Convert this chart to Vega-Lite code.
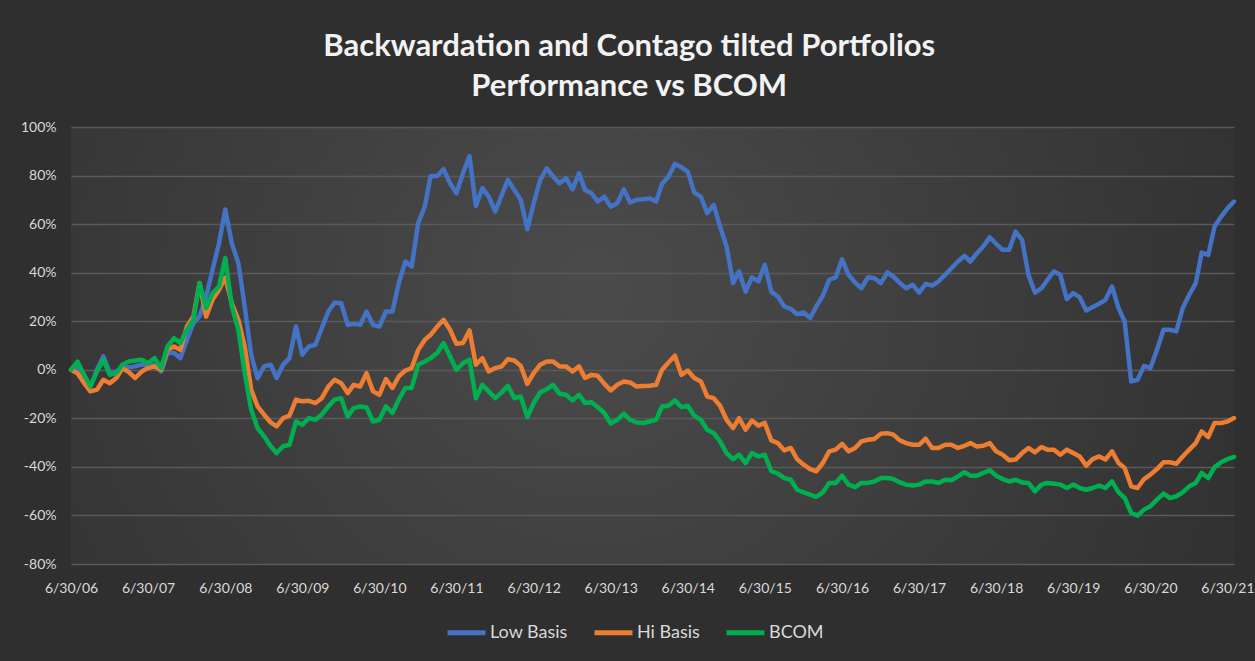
{
  "$schema": "https://vega.github.io/schema/vega-lite/v6.json",
  "width": 1163,
  "height": 437,
  "autosize": {"type": "none"},
  "padding": {"left": 71, "top": 127, "right": 21, "bottom": 97},
  "background": "#2f2f2f",
  "title": {
    "text": ["Backwardation and Contago tilted Portfolios", "Performance vs BCOM"],
    "fontSize": 31,
    "fontWeight": "bold",
    "color": "#f2f2f2",
    "font": "Lato",
    "lineHeight": 40,
    "anchor": "middle",
    "frame": "bounds",
    "offset": 17,
    "dx": -8
  },
  "data": {
    "values": [
      {"date": "2006-06-30", "Low Basis": 0, "Hi Basis": 0, "BCOM": 0},
      {"date": "2006-07-31", "Low Basis": 1, "Hi Basis": -1.4, "BCOM": 3.4},
      {"date": "2006-08-31", "Low Basis": -3, "Hi Basis": -5.5, "BCOM": -2},
      {"date": "2006-09-30", "Low Basis": -6.9, "Hi Basis": -8.9, "BCOM": -6.9},
      {"date": "2006-10-31", "Low Basis": 0, "Hi Basis": -8.2, "BCOM": -0.7},
      {"date": "2006-11-30", "Low Basis": 5.5, "Hi Basis": -4.1, "BCOM": 4.1},
      {"date": "2006-12-31", "Low Basis": -1.4, "Hi Basis": -5.5, "BCOM": -2.1},
      {"date": "2007-01-31", "Low Basis": -0.7, "Hi Basis": -3.4, "BCOM": -1.4},
      {"date": "2007-02-28", "Low Basis": 0.7, "Hi Basis": 0.7, "BCOM": 2.1},
      {"date": "2007-03-31", "Low Basis": 1, "Hi Basis": -1, "BCOM": 3.4},
      {"date": "2007-04-30", "Low Basis": 1.4, "Hi Basis": -3.4, "BCOM": 3.8},
      {"date": "2007-05-31", "Low Basis": 2.1, "Hi Basis": -0.7, "BCOM": 4.1},
      {"date": "2007-06-30", "Low Basis": 2.1, "Hi Basis": 0.7, "BCOM": 2.7},
      {"date": "2007-07-31", "Low Basis": 2, "Hi Basis": 1.4, "BCOM": 4.8},
      {"date": "2007-08-31", "Low Basis": -0.7, "Hi Basis": 0, "BCOM": 0.7},
      {"date": "2007-09-30", "Low Basis": 6.9, "Hi Basis": 8.2, "BCOM": 9.6},
      {"date": "2007-10-31", "Low Basis": 6.9, "Hi Basis": 9.6, "BCOM": 13},
      {"date": "2007-11-30", "Low Basis": 4.8, "Hi Basis": 8.2, "BCOM": 11},
      {"date": "2007-12-31", "Low Basis": 12.3, "Hi Basis": 17.8, "BCOM": 16.5},
      {"date": "2008-01-31", "Low Basis": 19.2, "Hi Basis": 21.9, "BCOM": 20.6},
      {"date": "2008-02-29", "Low Basis": 22, "Hi Basis": 35.7, "BCOM": 35.7},
      {"date": "2008-03-31", "Low Basis": 30, "Hi Basis": 21.9, "BCOM": 25.4},
      {"date": "2008-04-30", "Low Basis": 41, "Hi Basis": 28.8, "BCOM": 31.5},
      {"date": "2008-05-31", "Low Basis": 52, "Hi Basis": 32.9, "BCOM": 34.3},
      {"date": "2008-06-30", "Low Basis": 66, "Hi Basis": 38, "BCOM": 46},
      {"date": "2008-07-31", "Low Basis": 52, "Hi Basis": 27.4, "BCOM": 26.1},
      {"date": "2008-08-31", "Low Basis": 43.9, "Hi Basis": 20.6, "BCOM": 16.5},
      {"date": "2008-09-30", "Low Basis": 26, "Hi Basis": 9.6, "BCOM": -1.4},
      {"date": "2008-10-31", "Low Basis": 6, "Hi Basis": -8.2, "BCOM": -16.5},
      {"date": "2008-11-30", "Low Basis": -3.5, "Hi Basis": -15.1, "BCOM": -24},
      {"date": "2008-12-31", "Low Basis": 1.4, "Hi Basis": -18.5, "BCOM": -27.4},
      {"date": "2009-01-31", "Low Basis": 2.1, "Hi Basis": -21.7, "BCOM": -31.5},
      {"date": "2009-02-28", "Low Basis": -3.4, "Hi Basis": -23.3, "BCOM": -34.3},
      {"date": "2009-03-31", "Low Basis": 2.1, "Hi Basis": -19.9, "BCOM": -31.5},
      {"date": "2009-04-30", "Low Basis": 4.8, "Hi Basis": -18.9, "BCOM": -30.9},
      {"date": "2009-05-31", "Low Basis": 17.8, "Hi Basis": -12.3, "BCOM": -21.3},
      {"date": "2009-06-30", "Low Basis": 6.2, "Hi Basis": -13, "BCOM": -22.6},
      {"date": "2009-07-31", "Low Basis": 9.6, "Hi Basis": -12.8, "BCOM": -19.9},
      {"date": "2009-08-31", "Low Basis": 10.3, "Hi Basis": -13.7, "BCOM": -20.6},
      {"date": "2009-09-30", "Low Basis": 17.1, "Hi Basis": -11.7, "BCOM": -18.5},
      {"date": "2009-10-31", "Low Basis": 24, "Hi Basis": -6.9, "BCOM": -15.1},
      {"date": "2009-11-30", "Low Basis": 27.7, "Hi Basis": -4.1, "BCOM": -12.3},
      {"date": "2009-12-31", "Low Basis": 27.4, "Hi Basis": -5.5, "BCOM": -11.7},
      {"date": "2010-01-31", "Low Basis": 18.5, "Hi Basis": -9.6, "BCOM": -19.2},
      {"date": "2010-02-28", "Low Basis": 18.9, "Hi Basis": -6.2, "BCOM": -15.8},
      {"date": "2010-03-31", "Low Basis": 18.5, "Hi Basis": -6.9, "BCOM": -15.1},
      {"date": "2010-04-30", "Low Basis": 24, "Hi Basis": -1.4, "BCOM": -15.5},
      {"date": "2010-05-31", "Low Basis": 18.5, "Hi Basis": -8.9, "BCOM": -21.3},
      {"date": "2010-06-30", "Low Basis": 17.8, "Hi Basis": -10.3, "BCOM": -20.6},
      {"date": "2010-07-31", "Low Basis": 24, "Hi Basis": -3.8, "BCOM": -15.1},
      {"date": "2010-08-31", "Low Basis": 24, "Hi Basis": -7.5, "BCOM": -17.8},
      {"date": "2010-09-30", "Low Basis": 35.7, "Hi Basis": -2.7, "BCOM": -12.3},
      {"date": "2010-10-31", "Low Basis": 44.6, "Hi Basis": -0.3, "BCOM": -7.5},
      {"date": "2010-11-30", "Low Basis": 42.5, "Hi Basis": 0.7, "BCOM": -7.5},
      {"date": "2010-12-31", "Low Basis": 60.4, "Hi Basis": 8.2, "BCOM": 2.1},
      {"date": "2011-01-31", "Low Basis": 67.2, "Hi Basis": 12.3, "BCOM": 3.4},
      {"date": "2011-02-28", "Low Basis": 79.8, "Hi Basis": 14.4, "BCOM": 4.8},
      {"date": "2011-03-31", "Low Basis": 79.8, "Hi Basis": 17.8, "BCOM": 6.9},
      {"date": "2011-04-30", "Low Basis": 82.6, "Hi Basis": 20.6, "BCOM": 11},
      {"date": "2011-05-31", "Low Basis": 76.8, "Hi Basis": 16.5, "BCOM": 5.5},
      {"date": "2011-06-30", "Low Basis": 72.7, "Hi Basis": 10.7, "BCOM": 0},
      {"date": "2011-07-31", "Low Basis": 80.9, "Hi Basis": 11, "BCOM": 2.7},
      {"date": "2011-08-31", "Low Basis": 88, "Hi Basis": 16.2, "BCOM": 4.1},
      {"date": "2011-09-30", "Low Basis": 67.5, "Hi Basis": 2.1, "BCOM": -11.7},
      {"date": "2011-10-31", "Low Basis": 74.8, "Hi Basis": 4.8, "BCOM": -6.2},
      {"date": "2011-11-30", "Low Basis": 71.3, "Hi Basis": -0.7, "BCOM": -8.9},
      {"date": "2011-12-31", "Low Basis": 65.2, "Hi Basis": 0.7, "BCOM": -11.7},
      {"date": "2012-01-31", "Low Basis": 72, "Hi Basis": 1.4, "BCOM": -9.3},
      {"date": "2012-02-29", "Low Basis": 78.2, "Hi Basis": 4.4, "BCOM": -6.6},
      {"date": "2012-03-31", "Low Basis": 74, "Hi Basis": 3.8, "BCOM": -11.7},
      {"date": "2012-04-30", "Low Basis": 70, "Hi Basis": 1.6, "BCOM": -11},
      {"date": "2012-05-31", "Low Basis": 57.9, "Hi Basis": -5.8, "BCOM": -19.5},
      {"date": "2012-06-30", "Low Basis": 68.6, "Hi Basis": -1.4, "BCOM": -13.7},
      {"date": "2012-07-31", "Low Basis": 78.2, "Hi Basis": 2.1, "BCOM": -9.3},
      {"date": "2012-08-31", "Low Basis": 83, "Hi Basis": 3.4, "BCOM": -8},
      {"date": "2012-09-30", "Low Basis": 79.6, "Hi Basis": 3.4, "BCOM": -6.2},
      {"date": "2012-10-31", "Low Basis": 76.8, "Hi Basis": 1.4, "BCOM": -9.9},
      {"date": "2012-11-30", "Low Basis": 78.9, "Hi Basis": 1.4, "BCOM": -10.3},
      {"date": "2012-12-31", "Low Basis": 74.3, "Hi Basis": -0.7, "BCOM": -12.6},
      {"date": "2013-01-31", "Low Basis": 80.9, "Hi Basis": 1.4, "BCOM": -10.3},
      {"date": "2013-02-28", "Low Basis": 74.1, "Hi Basis": -3.4, "BCOM": -13.7},
      {"date": "2013-03-31", "Low Basis": 72.7, "Hi Basis": -2.1, "BCOM": -13.4},
      {"date": "2013-04-30", "Low Basis": 69.3, "Hi Basis": -2.5, "BCOM": -15.4},
      {"date": "2013-05-31", "Low Basis": 71.3, "Hi Basis": -5.8, "BCOM": -17.8},
      {"date": "2013-06-30", "Low Basis": 67.2, "Hi Basis": -8.5, "BCOM": -22.2},
      {"date": "2013-07-31", "Low Basis": 68.6, "Hi Basis": -6.2, "BCOM": -20.6},
      {"date": "2013-08-31", "Low Basis": 74.3, "Hi Basis": -4.8, "BCOM": -18.1},
      {"date": "2013-09-30", "Low Basis": 68.9, "Hi Basis": -5.2, "BCOM": -20.6},
      {"date": "2013-10-31", "Low Basis": 70, "Hi Basis": -6.9, "BCOM": -21.7},
      {"date": "2013-11-30", "Low Basis": 70.2, "Hi Basis": -6.7, "BCOM": -21.9},
      {"date": "2013-12-31", "Low Basis": 70.6, "Hi Basis": -6.6, "BCOM": -21.3},
      {"date": "2014-01-31", "Low Basis": 69.3, "Hi Basis": -6.2, "BCOM": -20.6},
      {"date": "2014-02-28", "Low Basis": 76.5, "Hi Basis": 0, "BCOM": -15.1},
      {"date": "2014-03-31", "Low Basis": 79.6, "Hi Basis": 3, "BCOM": -14.8},
      {"date": "2014-04-30", "Low Basis": 84.8, "Hi Basis": 5.8, "BCOM": -12.6},
      {"date": "2014-05-31", "Low Basis": 83.4, "Hi Basis": -2.1, "BCOM": -15.4},
      {"date": "2014-06-30", "Low Basis": 81.6, "Hi Basis": -0.3, "BCOM": -14.8},
      {"date": "2014-07-31", "Low Basis": 73, "Hi Basis": -3.4, "BCOM": -18.9},
      {"date": "2014-08-31", "Low Basis": 71.3, "Hi Basis": -4.8, "BCOM": -20.6},
      {"date": "2014-09-30", "Low Basis": 64.5, "Hi Basis": -11, "BCOM": -24.7},
      {"date": "2014-10-31", "Low Basis": 67.9, "Hi Basis": -11.7, "BCOM": -26.1},
      {"date": "2014-11-30", "Low Basis": 59, "Hi Basis": -14.8, "BCOM": -29.5},
      {"date": "2014-12-31", "Low Basis": 50.8, "Hi Basis": -20.6, "BCOM": -34.3},
      {"date": "2015-01-31", "Low Basis": 35.7, "Hi Basis": -24, "BCOM": -36.8},
      {"date": "2015-02-28", "Low Basis": 40.5, "Hi Basis": -19.9, "BCOM": -35},
      {"date": "2015-03-31", "Low Basis": 32.2, "Hi Basis": -24.7, "BCOM": -38.4},
      {"date": "2015-04-30", "Low Basis": 38.1, "Hi Basis": -20.9, "BCOM": -34.3},
      {"date": "2015-05-31", "Low Basis": 36.4, "Hi Basis": -23, "BCOM": -35.7},
      {"date": "2015-06-30", "Low Basis": 43.2, "Hi Basis": -21.9, "BCOM": -35},
      {"date": "2015-07-31", "Low Basis": 32.2, "Hi Basis": -29.1, "BCOM": -41.8},
      {"date": "2015-08-31", "Low Basis": 30.2, "Hi Basis": -30.2, "BCOM": -42.8},
      {"date": "2015-09-30", "Low Basis": 26.1, "Hi Basis": -33.2, "BCOM": -44.6},
      {"date": "2015-10-31", "Low Basis": 25.1, "Hi Basis": -32.2, "BCOM": -45.3},
      {"date": "2015-11-30", "Low Basis": 22.9, "Hi Basis": -36.8, "BCOM": -49.4},
      {"date": "2015-12-31", "Low Basis": 23.6, "Hi Basis": -39.1, "BCOM": -50.5},
      {"date": "2016-01-31", "Low Basis": 21.3, "Hi Basis": -40.9, "BCOM": -51.4},
      {"date": "2016-02-29", "Low Basis": 26.1, "Hi Basis": -41.8, "BCOM": -52.4},
      {"date": "2016-03-31", "Low Basis": 30.5, "Hi Basis": -38.4, "BCOM": -50.5},
      {"date": "2016-04-30", "Low Basis": 37, "Hi Basis": -33.6, "BCOM": -46.6},
      {"date": "2016-05-31", "Low Basis": 38.1, "Hi Basis": -32.9, "BCOM": -46.6},
      {"date": "2016-06-30", "Low Basis": 45.5, "Hi Basis": -30.5, "BCOM": -43.6},
      {"date": "2016-07-31", "Low Basis": 39.1, "Hi Basis": -33.6, "BCOM": -47.3},
      {"date": "2016-08-31", "Low Basis": 35.9, "Hi Basis": -32.2, "BCOM": -48.3},
      {"date": "2016-09-30", "Low Basis": 33.6, "Hi Basis": -29.5, "BCOM": -46.6},
      {"date": "2016-10-31", "Low Basis": 38.1, "Hi Basis": -28.8, "BCOM": -46.6},
      {"date": "2016-11-30", "Low Basis": 37.7, "Hi Basis": -28.5, "BCOM": -46},
      {"date": "2016-12-31", "Low Basis": 35.7, "Hi Basis": -26.3, "BCOM": -44.6},
      {"date": "2017-01-31", "Low Basis": 40.1, "Hi Basis": -26.1, "BCOM": -44.6},
      {"date": "2017-02-28", "Low Basis": 38.4, "Hi Basis": -26.7, "BCOM": -45},
      {"date": "2017-03-31", "Low Basis": 35.7, "Hi Basis": -29.1, "BCOM": -46.4},
      {"date": "2017-04-30", "Low Basis": 33.6, "Hi Basis": -30.2, "BCOM": -47.3},
      {"date": "2017-05-31", "Low Basis": 35, "Hi Basis": -30.9, "BCOM": -47.7},
      {"date": "2017-06-30", "Low Basis": 31.8, "Hi Basis": -30.9, "BCOM": -47.3},
      {"date": "2017-07-31", "Low Basis": 35.4, "Hi Basis": -28.4, "BCOM": -46},
      {"date": "2017-08-31", "Low Basis": 34.7, "Hi Basis": -32.2, "BCOM": -46},
      {"date": "2017-09-30", "Low Basis": 36.4, "Hi Basis": -32.2, "BCOM": -46.6},
      {"date": "2017-10-31", "Low Basis": 39.1, "Hi Basis": -30.9, "BCOM": -45.3},
      {"date": "2017-11-30", "Low Basis": 41.8, "Hi Basis": -30.9, "BCOM": -45.5},
      {"date": "2017-12-31", "Low Basis": 44.6, "Hi Basis": -32.2, "BCOM": -43.9},
      {"date": "2018-01-31", "Low Basis": 46.9, "Hi Basis": -31.3, "BCOM": -42.2},
      {"date": "2018-02-28", "Low Basis": 44.6, "Hi Basis": -30.2, "BCOM": -43.6},
      {"date": "2018-03-31", "Low Basis": 48, "Hi Basis": -31.6, "BCOM": -43.6},
      {"date": "2018-04-30", "Low Basis": 50.8, "Hi Basis": -31.3, "BCOM": -42.5},
      {"date": "2018-05-31", "Low Basis": 54.6, "Hi Basis": -30.2, "BCOM": -41.4},
      {"date": "2018-06-30", "Low Basis": 51.9, "Hi Basis": -33.6, "BCOM": -43.6},
      {"date": "2018-07-31", "Low Basis": 49.4, "Hi Basis": -35, "BCOM": -45},
      {"date": "2018-08-31", "Low Basis": 49.4, "Hi Basis": -37.3, "BCOM": -46},
      {"date": "2018-09-30", "Low Basis": 56.9, "Hi Basis": -37, "BCOM": -45.3},
      {"date": "2018-10-31", "Low Basis": 53.5, "Hi Basis": -34.3, "BCOM": -46.4},
      {"date": "2018-11-30", "Low Basis": 39.1, "Hi Basis": -32.2, "BCOM": -46.6},
      {"date": "2018-12-31", "Low Basis": 31.8, "Hi Basis": -34, "BCOM": -50.1},
      {"date": "2019-01-31", "Low Basis": 33.6, "Hi Basis": -31.8, "BCOM": -47.3},
      {"date": "2019-02-28", "Low Basis": 37, "Hi Basis": -32.9, "BCOM": -46.6},
      {"date": "2019-03-31", "Low Basis": 40.5, "Hi Basis": -32.9, "BCOM": -46.9},
      {"date": "2019-04-30", "Low Basis": 39.1, "Hi Basis": -35, "BCOM": -47.3},
      {"date": "2019-05-31", "Low Basis": 29.1, "Hi Basis": -32.9, "BCOM": -48.7},
      {"date": "2019-06-30", "Low Basis": 31.6, "Hi Basis": -34.3, "BCOM": -47.3},
      {"date": "2019-07-31", "Low Basis": 29.9, "Hi Basis": -35.7, "BCOM": -48.7},
      {"date": "2019-08-31", "Low Basis": 24.4, "Hi Basis": -39.5, "BCOM": -49.4},
      {"date": "2019-09-30", "Low Basis": 25.8, "Hi Basis": -36.8, "BCOM": -48.7},
      {"date": "2019-10-31", "Low Basis": 27.2, "Hi Basis": -35.7, "BCOM": -47.7},
      {"date": "2019-11-30", "Low Basis": 28.8, "Hi Basis": -37, "BCOM": -48.7},
      {"date": "2019-12-31", "Low Basis": 34.3, "Hi Basis": -33.6, "BCOM": -46},
      {"date": "2020-01-31", "Low Basis": 25.4, "Hi Basis": -38.4, "BCOM": -50.5},
      {"date": "2020-02-29", "Low Basis": 19.9, "Hi Basis": -40.5, "BCOM": -52.8},
      {"date": "2020-03-31", "Low Basis": -4.8, "Hi Basis": -48, "BCOM": -59},
      {"date": "2020-04-30", "Low Basis": -4.1, "Hi Basis": -48.7, "BCOM": -60.1},
      {"date": "2020-05-31", "Low Basis": 1.6, "Hi Basis": -45, "BCOM": -57.6},
      {"date": "2020-06-30", "Low Basis": 0.7, "Hi Basis": -43.2, "BCOM": -56.2},
      {"date": "2020-07-31", "Low Basis": 8.2, "Hi Basis": -40.9, "BCOM": -53.5},
      {"date": "2020-08-31", "Low Basis": 16.5, "Hi Basis": -38.1, "BCOM": -51},
      {"date": "2020-09-30", "Low Basis": 16.5, "Hi Basis": -38.1, "BCOM": -52.8},
      {"date": "2020-10-31", "Low Basis": 15.8, "Hi Basis": -38.7, "BCOM": -52.1},
      {"date": "2020-11-30", "Low Basis": 25.4, "Hi Basis": -35.7, "BCOM": -50.5},
      {"date": "2020-12-31", "Low Basis": 30.9, "Hi Basis": -32.9, "BCOM": -48},
      {"date": "2021-01-31", "Low Basis": 35.7, "Hi Basis": -30.2, "BCOM": -46.6},
      {"date": "2021-02-28", "Low Basis": 48.3, "Hi Basis": -25.4, "BCOM": -42.5},
      {"date": "2021-03-31", "Low Basis": 47.3, "Hi Basis": -27.7, "BCOM": -44.6},
      {"date": "2021-04-30", "Low Basis": 59, "Hi Basis": -21.9, "BCOM": -40.1},
      {"date": "2021-05-31", "Low Basis": 63.1, "Hi Basis": -21.9, "BCOM": -38.1},
      {"date": "2021-06-30", "Low Basis": 66.5, "Hi Basis": -21.3, "BCOM": -36.8},
      {"date": "2021-07-31", "Low Basis": 69.3, "Hi Basis": -19.9, "BCOM": -35.9}
    ]
  },
  "transform": [{"fold": ["Low Basis", "Hi Basis", "BCOM"], "as": ["series", "value"]}],
  "mark": {"type": "line", "strokeWidth": 4.5, "strokeJoin": "round", "strokeCap": "round"},
  "encoding": {
    "x": {
      "field": "date",
      "type": "temporal",
      "scale": {"domain": [{"year": 2006, "month": 6, "date": 30}, {"year": 2021, "month": 7, "date": 31}]},
      "axis": {
        "values": [
          {"year": 2006, "month": 6, "date": 30}, {"year": 2007, "month": 6, "date": 30},
          {"year": 2008, "month": 6, "date": 30}, {"year": 2009, "month": 6, "date": 30},
          {"year": 2010, "month": 6, "date": 30}, {"year": 2011, "month": 6, "date": 30},
          {"year": 2012, "month": 6, "date": 30}, {"year": 2013, "month": 6, "date": 30},
          {"year": 2014, "month": 6, "date": 30}, {"year": 2015, "month": 6, "date": 30},
          {"year": 2016, "month": 6, "date": 30}, {"year": 2017, "month": 6, "date": 30},
          {"year": 2018, "month": 6, "date": 30}, {"year": 2019, "month": 6, "date": 30},
          {"year": 2020, "month": 6, "date": 30}, {"year": 2021, "month": 6, "date": 30}
        ],
        "format": "%-m/%d/%y",
        "labelColor": "#d9d9d9",
        "labelFontSize": 14,
        "labelFont": "Lato",
        "labelPadding": 17,
        "labelFlush": false,
        "labelOverlap": false,
        "ticks": false,
        "domain": false,
        "grid": false,
        "title": null
      }
    },
    "y": {
      "field": "value",
      "type": "quantitative",
      "scale": {"domain": [-80, 100], "nice": false},
      "axis": {
        "values": [-80, -60, -40, -20, 0, 20, 40, 60, 80, 100],
        "labelExpr": "datum.value + '%'",
        "labelColor": "#d9d9d9",
        "labelFontSize": 14,
        "labelFont": "Lato",
        "labelPadding": 15,
        "ticks": false,
        "domain": false,
        "gridColor": "#5a5a5a",
        "gridWidth": 1.5,
        "title": null
      }
    },
    "color": {
      "field": "series",
      "type": "nominal",
      "sort": ["Low Basis", "Hi Basis", "BCOM"],
      "scale": {"domain": ["Low Basis", "Hi Basis", "BCOM"], "range": ["#4472C4", "#ED7D31", "#00B050"]},
      "legend": {
        "orient": "none",
        "legendX": 374,
        "legendY": 484,
        "direction": "horizontal",
        "title": null,
        "symbolType": "stroke",
        "symbolStrokeWidth": 5,
        "symbolSize": 1444,
        "labelFontSize": 18,
        "labelFont": "Lato",
        "labelColor": "#d9d9d9",
        "columnPadding": 16,
        "labelOffset": 2
      }
    }
  },
  "config": {
    "view": {
      "stroke": null,
      "fill": {
        "gradient": "radial",
        "x1": 0.45, "y1": 0.45, "x2": 0.45, "y2": 0.45, "r1": 0, "r2": 0.6,
        "stops": [{"offset": 0, "color": "#4b4b4b"}, {"offset": 1, "color": "#313131"}]
      }
    }
  }
}
